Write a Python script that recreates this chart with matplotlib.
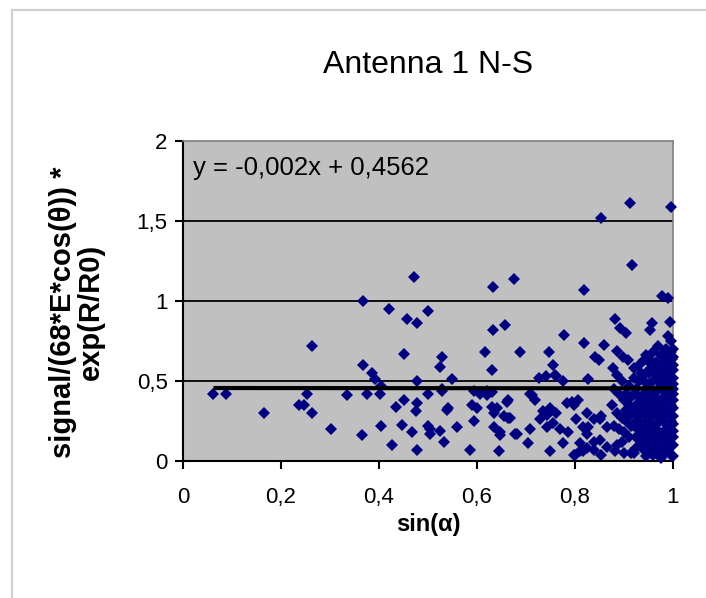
import matplotlib
matplotlib.use("Agg")
import matplotlib.pyplot as plt
from matplotlib import font_manager as fm
from matplotlib.lines import Line2D

# ---------------- data ----------------
title = "Antenna 1 N-S"
x_label = "sin(α)"
y_label = "signal/(68*E*cos(θ)) *\nexp(R/R0)"
equation = "y = -0,002x + 0,4562"
trend_slope = -0.002
trend_intercept = 0.4562

x_ticks = [0, 0.2, 0.4, 0.6, 0.8, 1.0]
x_tick_labels = ["0", "0,2", "0,4", "0,6", "0,8", "1"]
y_ticks = [0, 0.5, 1.0, 1.5, 2.0]
y_tick_labels = ["0", "0,5", "1", "1,5", "2"]

# sparse part of the cloud
x_sparse = [0.062, 0.088, 0.165, 0.263, 0.254, 0.237, 0.247, 0.264, 0.303, 0.334,
            0.368, 0.421, 0.472, 0.499, 0.458, 0.478, 0.633, 0.676, 0.818, 0.854,
            0.912, 0.996, 0.917, 0.633, 0.657, 0.451, 0.528, 0.524, 0.617, 0.630,
            0.368, 0.385, 0.392, 0.405, 0.478, 0.548, 0.528, 0.376, 0.402, 0.450,
            0.435, 0.478, 0.476, 0.499, 0.539, 0.405, 0.446, 0.467, 0.499, 0.504,
            0.524, 0.533, 0.560, 0.365, 0.426, 0.478, 0.586, 0.593, 0.589, 0.599,
            0.606, 0.620, 0.630, 0.640, 0.635, 0.656, 0.635, 0.646, 0.644, 0.778,
            0.818, 0.859, 0.882, 0.688, 0.746, 0.840, 0.756, 0.727, 0.759, 0.776,
            0.827, 0.712, 0.662, 0.735, 0.749, 0.762, 0.793, 0.807, 0.667, 0.678,
            0.705, 0.708, 0.749, 0.776, 0.786, 0.800, 0.817, 0.838, 0.827, 0.851,
            0.865, 0.851, 0.729, 0.742, 0.977, 0.990, 0.994, 0.957, 0.953, 0.892,
            0.905, 0.885, 0.898, 0.908, 0.940, 0.950, 0.878, 0.885, 0.848, 0.528,
            0.593, 0.620, 0.708, 0.718, 0.541, 0.630, 0.664, 0.783, 0.824, 0.838,
            0.854, 0.504, 0.647, 0.664, 0.681, 0.742, 0.756, 0.769, 0.797, 0.803,
            0.817, 0.810, 0.824, 0.838, 0.797, 0.810, 0.824, 0.854, 0.865, 0.882,
            0.741, 0.762]
y_sparse = [0.42, 0.42, 0.30, 0.72, 0.42, 0.35, 0.35, 0.30, 0.20, 0.41,
            1.00, 0.95, 1.15, 0.94, 0.885, 0.86, 1.09, 1.135, 1.07, 1.52,
            1.615, 1.585, 1.225, 0.82, 0.85, 0.67, 0.65, 0.59, 0.68, 0.57,
            0.60, 0.55, 0.51, 0.47, 0.50, 0.51, 0.45, 0.42, 0.42, 0.38,
            0.34, 0.36, 0.31, 0.42, 0.32, 0.22, 0.225, 0.18, 0.22, 0.17,
            0.19, 0.12, 0.21, 0.16, 0.10, 0.07, 0.07, 0.25, 0.35, 0.33,
            0.42, 0.41, 0.43, 0.33, 0.30, 0.28, 0.21, 0.16, 0.06, 0.79,
            0.735, 0.725, 0.89, 0.68, 0.68, 0.65, 0.60, 0.52, 0.54, 0.50,
            0.51, 0.41, 0.37, 0.31, 0.33, 0.30, 0.37, 0.38, 0.27, 0.17,
            0.11, 0.20, 0.06, 0.11, 0.18, 0.04, 0.06, 0.07, 0.21, 0.26,
            0.21, 0.13, 0.26, 0.21, 1.03, 1.02, 0.87, 0.86, 0.82, 0.83,
            0.80, 0.69, 0.65, 0.63, 0.63, 0.64, 0.58, 0.54, 0.63, 0.44,
            0.44, 0.44, 0.42, 0.38, 0.33, 0.34, 0.38, 0.36, 0.30, 0.26,
            0.28, 0.20, 0.18, 0.27, 0.17, 0.29, 0.24, 0.20, 0.35, 0.26,
            0.21, 0.11, 0.17, 0.12, 0.04, 0.06, 0.08, 0.04, 0.09, 0.06,
            0.53, 0.53]

# dense part near sin(α) = 1
x_dense = [0.880, 0.885, 0.890, 0.895, 0.900, 0.900, 0.905, 0.910, 0.910, 0.915,
           0.920, 0.920, 0.925, 0.930, 0.930, 0.935, 0.940, 0.940, 0.945, 0.950,
           0.950, 0.955, 0.955, 0.960, 0.960, 0.965, 0.965, 0.970, 0.970, 0.975,
           0.975, 0.980, 0.980, 0.980, 0.985, 0.985, 0.985, 0.990, 0.990, 0.990,
           0.995, 0.995, 0.995, 1.000, 1.000, 1.000, 1.000, 1.000, 1.000, 1.000,
           0.970, 0.960, 0.975, 0.990, 0.955, 0.945, 0.935, 0.925, 0.915, 0.905,
           0.895, 0.890, 0.915, 0.935, 0.945, 0.965, 0.975, 0.995, 0.990, 0.980,
           0.970, 0.960, 0.950, 0.940, 0.930, 0.920, 0.925, 0.940, 0.950, 0.960,
           0.970, 0.985, 0.995, 1.000, 1.000, 0.990, 0.985, 0.975, 0.960, 0.965,
           0.955, 0.945, 0.935, 0.930, 0.920, 0.910, 0.900, 0.885, 0.880, 0.875,
           0.996, 0.990, 0.970, 0.985, 0.998, 0.982, 0.968, 0.952,
           0.920, 0.930, 0.940, 0.950, 0.960, 0.970, 0.980, 0.990, 1.000, 1.000,
           1.000, 1.000, 1.000, 1.000, 1.000, 0.995, 0.995, 0.990, 0.990, 0.985,
           0.985, 0.980, 0.980, 0.975, 0.975, 0.970, 0.970, 0.965, 0.965, 0.960,
           0.955, 0.955, 0.950, 0.950, 0.945, 0.945, 0.940, 0.935, 0.930, 0.930,
           0.925, 0.920, 0.915, 0.910, 0.905, 0.900, 0.895, 0.925, 0.935, 0.945,
           0.960, 0.975, 0.985, 0.995, 0.990, 0.980, 0.965, 0.955, 0.940, 0.950]
y_dense = [0.45, 0.30, 0.20, 0.12, 0.38, 0.05, 0.25, 0.47, 0.15, 0.33,
           0.22, 0.58, 0.08, 0.40, 0.28, 0.18, 0.50, 0.12, 0.35, 0.25,
           0.62, 0.05, 0.44, 0.15, 0.30, 0.55, 0.20, 0.38, 0.10, 0.48,
           0.27, 0.65, 0.17, 0.35, 0.07, 0.42, 0.55, 0.23, 0.30, 0.13,
           0.60, 0.45, 0.04, 0.70, 0.52, 0.38, 0.28, 0.19, 0.10, 0.03,
           0.60, 0.68, 0.66, 0.68, 0.58, 0.66, 0.55, 0.45, 0.40, 0.32,
           0.27, 0.42, 0.05, 0.10, 0.03, 0.08, 0.02, 0.15, 0.50, 0.25,
           0.32, 0.42, 0.48, 0.42, 0.33, 0.30, 0.15, 0.20, 0.10, 0.22,
           0.16, 0.20, 0.35, 0.45, 0.60, 0.58, 0.62, 0.58, 0.50, 0.35,
           0.28, 0.25, 0.23, 0.50, 0.52, 0.28, 0.18, 0.10, 0.22, 0.35,
           0.75, 0.78, 0.72, 0.70, 0.64, 0.06, 0.44, 0.36,
           0.05, 0.13, 0.07, 0.18, 0.04, 0.24, 0.11, 0.07, 0.15, 0.23,
           0.33, 0.42, 0.48, 0.57, 0.65, 0.25, 0.52, 0.40, 0.35, 0.48,
           0.30, 0.45, 0.55, 0.38, 0.15, 0.05, 0.45, 0.28, 0.62, 0.38,
           0.35, 0.15, 0.40, 0.55, 0.45, 0.15, 0.30, 0.40, 0.20, 0.60,
           0.35, 0.42, 0.22, 0.35, 0.42, 0.28, 0.50, 0.25, 0.30, 0.55,
           0.60, 0.52, 0.66, 0.68, 0.19, 0.04, 0.13, 0.22, 0.37, 0.33]

x_vals = x_sparse + x_dense
y_vals = y_sparse + y_dense

# ---------------- style ----------------
names = {f.name for f in fm.fontManager.ttflist}
FONT = "Liberation Sans" if "Liberation Sans" in names else "DejaVu Sans"
plt.rcParams["font.family"] = [FONT, "DejaVu Sans"]

W, H = 706, 598
fig = plt.figure(figsize=(W / 100, H / 100), dpi=100)
fig.patch.set_facecolor("white")

# Excel-like chart frame (left and top edges visible)
fig.add_artist(Line2D([12 / W, 12 / W], [0, 1 - 10 / H], color="#d0d0d0", lw=1.5))
fig.add_artist(Line2D([12 / W, 1], [1 - 10 / H, 1 - 10 / H], color="#d0d0d0", lw=1.5))

ax = fig.add_axes([183 / W, 137 / H, 490 / W, 320 / H])
ax.set_facecolor("#c0c0c0")
ax.set_xlim(0, 1)
ax.set_ylim(0, 2)

for g in y_ticks[1:-1]:
    ax.axhline(g, color="black", lw=1.3, zorder=1)

ax.plot(x_vals, y_vals, linestyle="none", marker="D", markersize=6.2,
        color="#000080", markeredgewidth=0, zorder=3, clip_on=False)

tx = [min(x_vals), max(x_vals)]
ty = [trend_slope * v + trend_intercept for v in tx]
ax.plot(tx, ty, color="black", lw=3, zorder=4, solid_capstyle="butt")

for s in ["left", "bottom"]:
    ax.spines[s].set_color("black")
    ax.spines[s].set_linewidth(1.5)
for s in ["top", "right"]:
    ax.spines[s].set_color("#808080")
    ax.spines[s].set_linewidth(1.2)

ax.set_xticks(x_ticks)
ax.set_xticklabels(x_tick_labels)
ax.set_yticks(y_ticks)
ax.set_yticklabels(y_tick_labels)
ax.tick_params(axis="both", direction="out", length=6, width=1.5, color="black",
               labelsize=16)
ax.tick_params(axis="x", pad=13)
ax.tick_params(axis="y", pad=5)

ax.set_title(title, fontsize=23, pad=49)
ax.set_xlabel(x_label, fontsize=17, fontweight="bold", labelpad=3)
ax.set_ylabel(y_label, fontsize=21, fontweight="bold", linespacing=1.0)
ax.yaxis.set_label_coords(-0.16, 0.465)

ax.text(0.02, 0.915, equation, transform=ax.transAxes, fontsize=18.5, va="center", ha="left")

fig.savefig("out.png", dpi=100, facecolor="white")
